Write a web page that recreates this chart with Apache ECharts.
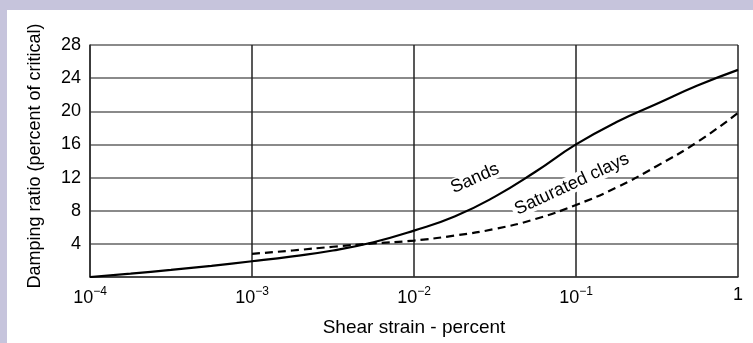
<!DOCTYPE html>
<html>
<head>
<meta charset="utf-8">
<script src="https://cdn.jsdelivr.net/npm/echarts@6/dist/echarts.min.js"></script>
<style>
  html, body { margin: 0; padding: 0; background: #c6c4dc; }
  #chart { position: absolute; left: 7px; top: 10px; width: 746px; height: 333px; background: #fff; }
</style>
</head>
<body>
<div id="chart"></div>
<script>
// strain in percent (log scale), damping in percent of critical
var sandsStrain = [1e-4, 1.78e-4, 3.16e-4, 5.62e-4, 1e-3, 1.78e-3, 3.16e-3, 5.62e-3, 1e-2, 1.78e-2, 3.16e-2, 5.62e-2, 1e-1, 1.78e-1, 3.16e-1, 5.62e-1, 1];
var sandsDamping = [0, 0.4, 0.85, 1.35, 1.9, 2.5, 3.2, 4.2, 5.6, 7.3, 9.7, 12.7, 16.0, 18.7, 20.9, 23.1, 25.0];
var claysStrain = [1e-3, 1.78e-3, 3.16e-3, 5.62e-3, 1e-2, 1.78e-2, 3.16e-2, 5.62e-2, 1e-1, 1.78e-1, 3.16e-1, 5.62e-1, 1];
var claysDamping = [2.8, 3.2, 3.65, 4.05, 4.4, 5.0, 5.8, 7.0, 8.7, 10.8, 13.4, 16.3, 19.8];
var yTicks = [0, 4, 8, 12, 16, 20, 24, 28];
var xTickLabels = ['10|−4', '10|−3', '10|−2', '10|−1', '1'];

function pairs(xs, ys) {
  var out = [];
  for (var i = 0; i < xs.length; i++) out.push([xs[i], ys[i]]);
  return out;
}

var myChart = echarts.init(document.getElementById('chart'));
var font = '"Liberation Sans", Arial, sans-serif';
var option = {
  animation: false,
  grid: { left: 83, top: 35, right: 15, bottom: 66 },
  xAxis: {
    type: 'log',
    logBase: 10,
    min: 1e-4,
    max: 1,
    name: 'Shear strain - percent',
    nameLocation: 'middle',
    nameGap: 41,
    nameTextStyle: { fontFamily: font, fontSize: 19, color: '#000' },
    axisLine: { show: true, lineStyle: { color: '#333', width: 1.5 } },
    axisTick: { show: false },
    splitLine: { show: true, lineStyle: { color: '#222', width: 1.5 } },
    axisLabel: {
      margin: 9,
      fontFamily: font,
      formatter: function (v) {
        var i = Math.round(Math.log10(v)) + 4;
        var t = xTickLabels[i].split('|');
        if (t.length === 1) return '{b|' + t[0] + '}';
        return '{b|' + t[0] + '}{s|' + t[1] + '}';
      },
      rich: {
        b: { fontFamily: font, fontSize: 18, color: '#000', verticalAlign: 'bottom' },
        s: { fontFamily: font, fontSize: 12, color: '#000', verticalAlign: 'top', padding: [0, 0, 9, 0] }
      }
    }
  },
  yAxis: {
    type: 'value',
    min: 0,
    max: 28,
    interval: 4,
    name: 'Damping ratio (percent of critical)',
    nameLocation: 'middle',
    nameGap: 46,
    nameTextStyle: { fontFamily: font, fontSize: 18, color: '#000', padding: [0, 0, 0, 10] },
    axisLine: { show: true, lineStyle: { color: '#333', width: 1.5 } },
    axisTick: { show: false },
    splitLine: { show: true, lineStyle: { color: '#8a8a8a', width: 2 } },
    axisLabel: {
      margin: 9,
      fontFamily: font,
      fontSize: 18,
      color: '#000',
      formatter: function (v) { return v === 0 ? '' : (yTicks.indexOf(v) >= 0 ? String(v) : ''); }
    }
  },
  series: [
    {
      name: 'Sands',
      type: 'line',
      data: pairs(sandsStrain, sandsDamping),
      smooth: 0.5,
      symbol: 'none',
      lineStyle: { color: '#000', width: 2.2 },
      z: 5
    },
    {
      name: 'Saturated clays',
      type: 'line',
      data: pairs(claysStrain, claysDamping),
      smooth: 0.5,
      symbol: 'none',
      lineStyle: { color: '#000', width: 2.2, type: [8, 5] },
      z: 5
    }
  ]
};
myChart.setOption(option);

// curve labels, anchored at data coordinates
var sandsAt = myChart.convertToPixel({ gridIndex: 0 }, [0.0238, 11.9]);
var claysAt = myChart.convertToPixel({ gridIndex: 0 }, [0.0944, 11.2]);
myChart.setOption({
  graphic: [
    {
      type: 'text', x: sandsAt[0], y: sandsAt[1], rotation: 24 * Math.PI / 180, z: 3,
      style: { text: 'Sands', fontFamily: font, fontSize: 18, fill: '#000', align: 'center', verticalAlign: 'middle',
        backgroundColor: '#fff', padding: [0, 3] }
    },
    {
      type: 'text', x: claysAt[0], y: claysAt[1], rotation: 25 * Math.PI / 180, z: 3,
      style: { text: 'Saturated clays', fontFamily: font, fontSize: 18, fill: '#000', align: 'center', verticalAlign: 'middle',
        backgroundColor: '#fff', padding: [0, 3] }
    }
  ]
});
window.addEventListener('resize', function () { myChart.resize(); });
</script>
</body>
</html>
